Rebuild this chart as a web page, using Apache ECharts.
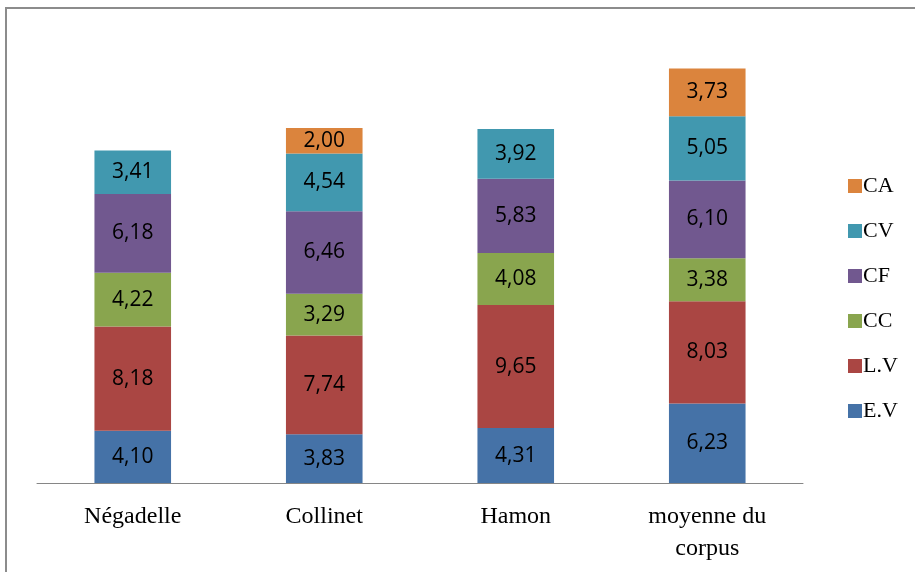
<!DOCTYPE html>
<html><head><meta charset="utf-8">
<script src="https://cdn.jsdelivr.net/npm/echarts@6/dist/echarts.min.js"></script>
<style>html,body{margin:0;padding:0;background:#fff;}#c{width:915px;height:572px;}
#frame{position:absolute;left:5px;top:7px;width:1000px;height:700px;border:2px solid #8c8c8c;box-sizing:border-box;pointer-events:none;}</style>
</head><body><div id="c"></div><div id="frame"></div>
<script>
const categories = ['Négadelle', 'Collinet', 'Hamon', 'moyenne du\ncorpus'];
const EV = [4.10, 3.83, 4.31, 6.23];
const LV = [8.18, 7.74, 9.65, 8.03];
const CC = [4.22, 3.29, 4.08, 3.38];
const CF = [6.18, 6.46, 5.83, 6.10];
const CV = [3.41, 4.54, 3.92, 5.05];
const CA = [null, 2.00, null, 3.73];
const seriesNames = ['E.V', 'L.V', 'CC', 'CF', 'CV', 'CA'];
const seriesData = [EV, LV, CC, CF, CV, CA];
const colors = ['#4572A7', '#AA4643', '#89A54E', '#71588F', '#4198AF', '#DB843D'];

const chart = echarts.init(document.getElementById('c'), null, {renderer: 'canvas'});
chart.setOption({
  animation: false,
  grid: {left: 37, right: 112, top: 37, bottom: 89},
  legend: {
    orient: 'vertical', left: 843, top: 170, itemGap: 23,
    itemWidth: 14, itemHeight: 14, icon: 'rect',
    data: seriesNames.slice().reverse(),
    textStyle: {fontFamily: 'Liberation Serif', fontSize: 22, color: '#000', padding: [0,0,0,-4]}
  },
  xAxis: {
    type: 'category', data: categories,
    axisLine: {lineStyle: {color: '#868686', width: 1}},
    axisTick: {length: 8, lineStyle: {color: '#868686'}},
    axisLabel: {fontFamily: 'Liberation Serif', fontSize: 24, color: '#000', margin: 18, lineHeight: 32}
  },
  yAxis: {type: 'value', min: 0, max: 35, show: false, splitLine: {show: false}},
  series: seriesData.map((d, i) => ({
    name: seriesNames[i], type: 'bar', stack: 'total', data: d, barWidth: '40%',
    itemStyle: {color: colors[i]},
    label: {show: true, position: 'inside', fontFamily: 'Open Sans', fontSize: 21, color: '#000',
      formatter: p => p.value == null ? '' : p.value.toFixed(2).replace('.', ',')}
  }))
});
</script></body></html>
